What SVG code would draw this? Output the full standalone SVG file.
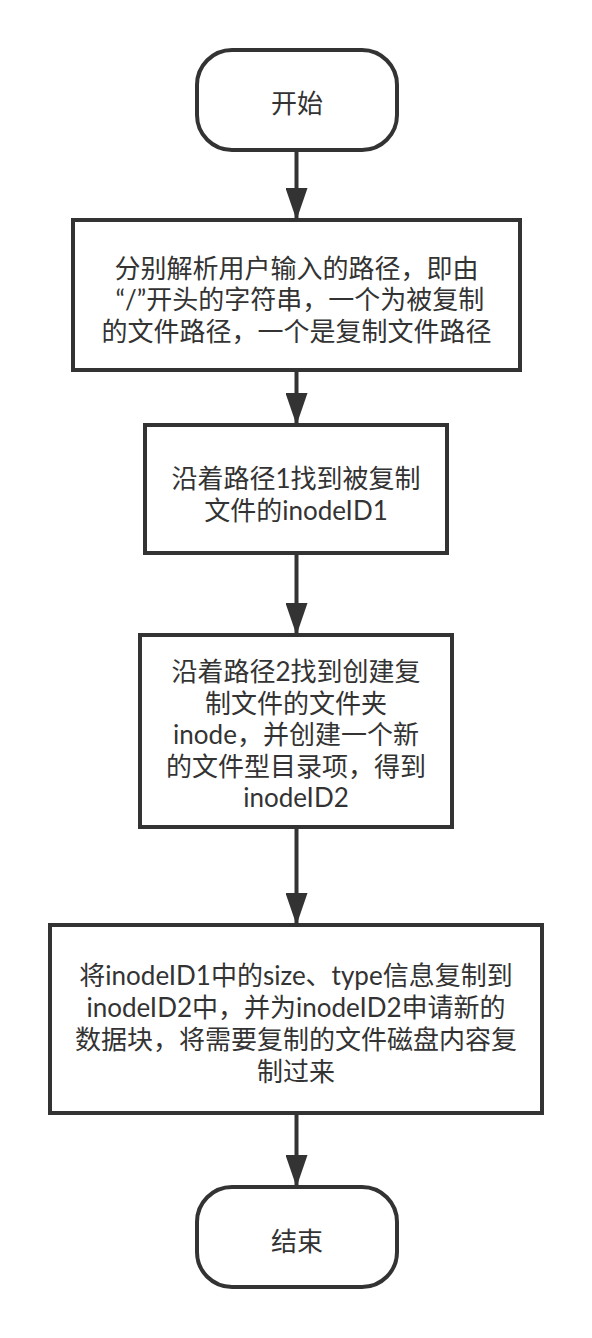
<svg xmlns="http://www.w3.org/2000/svg" width="592" height="1338" viewBox="0 0 592 1338">
<style>
.box{fill:#fff;stroke:#333;stroke-width:4}
.t{font-family:Lato,"Noto Sans CJK SC",sans-serif;font-size:26px;fill:#333;text-anchor:middle}
.c{stroke:#333;stroke-width:4;fill:none}
</style>
<defs>
<marker id="ah" viewBox="0 0 32 22" refX="32" refY="11" markerWidth="32" markerHeight="22" markerUnits="userSpaceOnUse" orient="auto">
<path d="M0,0 L32,11 L0,22 z" fill="#333"/>
</marker>
</defs>
<rect width="592" height="1338" fill="#fff"/>
<g id="connectors">
<path class="c" d="M296.5,150 V220" marker-end="url(#ah)"/>
<path class="c" d="M296.5,370 V425" marker-end="url(#ah)"/>
<path class="c" d="M296.5,553 V635" marker-end="url(#ah)"/>
<path class="c" d="M296.5,827 V925" marker-end="url(#ah)"/>
<path class="c" d="M296.5,1113 V1187" marker-end="url(#ah)"/>
</g>
<g id="start">
<rect class="box" x="197" y="50" width="200" height="100" rx="35" ry="35"/>
<text class="t" x="297" y="113">开始</text>
</g>
<g id="step1">
<rect class="box" x="73" y="220" width="447" height="150"/>
<text class="t" y="277.5"><tspan x="296.5">分别解析用户输入的路径，即由</tspan><tspan x="300" dy="31.5">“/”开头的字符串，一个为被复制</tspan><tspan x="296.5" dy="32">的文件路径，一个是复制文件路径</tspan></text>
</g>
<g id="step2">
<rect class="box" x="145" y="425" width="302" height="128"/>
<text class="t" y="488"><tspan x="296">沿着路径1找到被复制</tspan><tspan x="296" dy="32">文件的inodeID1</tspan></text>
</g>
<g id="step3">
<rect class="box" x="140" y="635" width="312" height="192"/>
<text class="t" y="681"><tspan x="296">沿着路径2找到创建复</tspan><tspan x="296" dy="31.5">制文件的文件夹</tspan><tspan x="296" dy="31.5">inode，并创建一个新</tspan><tspan x="296" dy="31.5">的文件型目录项，得到</tspan><tspan x="296" dy="31.5">inodeID2</tspan></text>
</g>
<g id="step4">
<rect class="box" x="50" y="925" width="492" height="188"/>
<text class="t" y="985"><tspan x="296">将inodeID1中的size、type信息复制到</tspan><tspan x="296" dy="32">inodeID2中，并为inodeID2申请新的</tspan><tspan x="296" dy="32">数据块，将需要复制的文件磁盘内容复</tspan><tspan x="296" dy="32">制过来</tspan></text>
</g>
<g id="end">
<rect class="box" x="197" y="1187" width="200" height="100" rx="35" ry="35"/>
<text class="t" x="297" y="1251">结束</text>
</g>
</svg>
